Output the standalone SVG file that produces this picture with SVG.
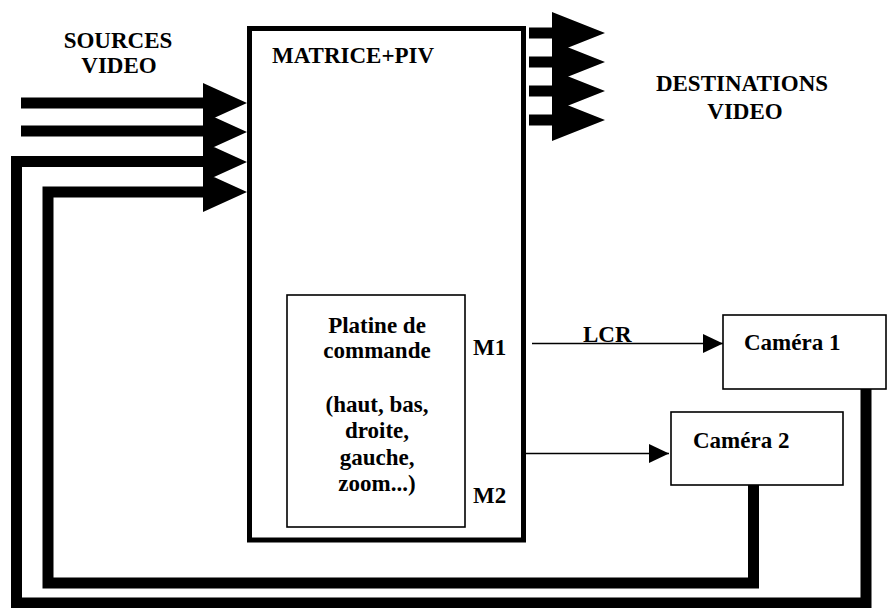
<svg xmlns="http://www.w3.org/2000/svg" width="889" height="608" viewBox="0 0 889 608">
<style>
text{font-family:"Liberation Serif","Times New Roman",serif;font-weight:bold;font-size:23px;fill:#000}
.box{fill:#fff;stroke:#000;stroke-width:1.6}
.thick{fill:none;stroke:#000;stroke-width:11;stroke-linejoin:miter}
.thin{fill:none;stroke:#000;stroke-width:1.6}
.head{fill:#000;stroke:none}
.mid{text-anchor:middle}
</style>
<defs>
<marker id="arr" markerWidth="20" markerHeight="19" refX="20" refY="9.5" orient="auto" markerUnits="userSpaceOnUse">
<path d="M0,0 L20,9.5 L0,19 Z" fill="#000"/>
</marker>
</defs>
<g id="labels">
<text class="mid" x="118" y="48">SOURCES</text>
<text class="mid" x="119" y="73">VIDEO</text>
<text class="mid" x="742" y="91">DESTINATIONS</text>
<text class="mid" x="745" y="119">VIDEO</text>
</g>
<g id="matrice">
<rect x="249.5" y="28.5" width="274" height="511.5" fill="#fff" stroke="#000" stroke-width="5"/>
<text x="272" y="63">MATRICE+PIV</text>
<text x="473" y="355">M1</text>
<text x="473" y="503">M2</text>
</g>
<g id="platine">
<rect class="box" x="287" y="295" width="178" height="232"/>
<text class="mid" x="377" y="333">Platine de</text>
<text class="mid" x="377" y="358">commande</text>
<text class="mid" x="377" y="412">(haut, bas,</text>
<text class="mid" x="377" y="438">droite,</text>
<text class="mid" x="377" y="465">gauche,</text>
<text class="mid" x="377" y="491">zoom...)</text>
</g>
<g id="camera1">
<rect class="box" x="723" y="315" width="163" height="74"/>
<text x="744" y="350">Caméra 1</text>
</g>
<g id="camera2">
<rect class="box" x="671" y="412" width="172" height="73"/>
<text x="693" y="448">Caméra 2</text>
</g>
<g id="connectors">
<path class="thick" d="M21,103 H204 M21,131 H204"/>
<path class="thick" d="M866,389 V603 H16.5 V161.5 H204"/>
<path class="thick" stroke-width="10" d="M753.5,485 V583 H48 V192 H204"/>
<path class="head" d="M203,83 L247,103 L203,123 Z M203,112 L247,132 L203,152 Z M203,142 L247,162 L203,182 Z M203,172 L247,192 L203,212 Z"/>
<path class="thick" d="M529,33 H553 M529,62 H553 M529,91 H553 M529,120 H553"/>
<path class="head" d="M552,12 L605,33 L552,54 Z M552,41 L605,62 L552,83 Z M552,70 L605,91 L552,112 Z M552,99 L605,120 L552,141 Z"/>
<line class="thin" x1="532" y1="343.5" x2="723" y2="343.5" marker-end="url(#arr)"/>
<line class="thin" x1="526" y1="453.5" x2="669" y2="453.5" marker-end="url(#arr)"/>
<text x="583" y="342">LCR</text>
</g>
</svg>
